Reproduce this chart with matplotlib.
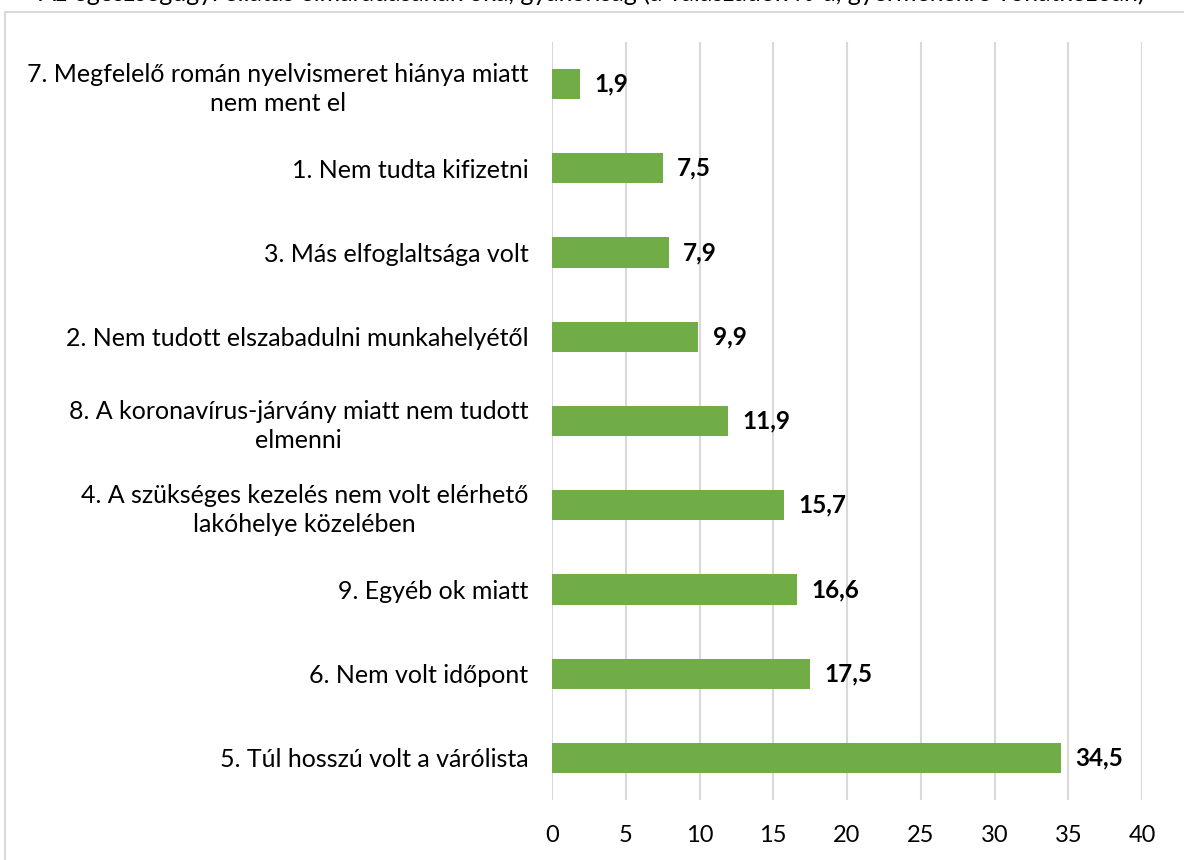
import matplotlib.pyplot as plt
from matplotlib.patches import Rectangle

plt.rcParams['font.family'] = ['Lato', 'DejaVu Sans']

# data (bottom to top, as drawn)
labels = [
    "5. Túl hosszú volt a várólista",
    "6. Nem volt időpont",
    "9. Egyéb ok miatt",
    "4. A szükséges kezelés nem volt elérhető\nlakóhelye közelében",
    "8. A koronavírus-járvány miatt nem tudott\nelmenni",
    "2. Nem tudott elszabadulni munkahelyétől",
    "3. Más elfoglaltsága volt",
    "1. Nem tudta kifizetni",
    "7. Megfelelő román nyelvismeret hiánya miatt\nnem ment el",
]
values = [34.5, 17.5, 16.6, 15.7, 11.9, 9.9, 7.9, 7.5, 1.9]
xticks = [0, 5, 10, 15, 20, 25, 30, 35, 40]

green = '#70ad47'
grid_c = '#d9d9d9'

fig = plt.figure(figsize=(11.84, 8.6), dpi=100)
ax = fig.add_axes([552/1184, 1-800/860, 590/1184, 758/860])

ypos = list(range(len(values)))
ax.barh(ypos, values, height=0.36, color=green, zorder=3)
for y, v in zip(ypos, values):
    ax.text(v + 1.0, y, f"{v:.1f}".replace('.', ','), va='center', ha='left',
            fontsize=17.5, fontweight='bold', color='black')

ax.set_xlim(0, 40)
ax.set_ylim(-0.5, len(values) - 0.5)
ax.set_xticks(xticks)
ax.set_xticklabels([str(t) for t in xticks], fontsize=17)
ax.set_yticks(ypos)
ax.set_yticklabels(labels, fontsize=18, multialignment='center', linespacing=1.3)
ax.tick_params(axis='both', length=0)
ax.tick_params(axis='x', pad=18)
ax.tick_params(axis='y', pad=17)
ax.grid(axis='x', color=grid_c, linewidth=1.5, zorder=0)
for s in ax.spines.values():
    s.set_visible(False)

# chart frame
fig.patches.append(Rectangle((5/1184, -0.01), 1.0, 1 - 12/860 + 0.01,
                             transform=fig.transFigure, fill=False,
                             edgecolor=grid_c, linewidth=1.5))

# title (cut off at the top in the source)
fig.text(0.5, 1 - 1/860, "Az egészségügyi ellátás elmaradásának oka, gyakoriság (a válaszadók %-a, gyermekekre vonatkozóan)",
         ha='center', va='baseline', fontsize=18, color='black')

fig.savefig('out.png', dpi=100)
